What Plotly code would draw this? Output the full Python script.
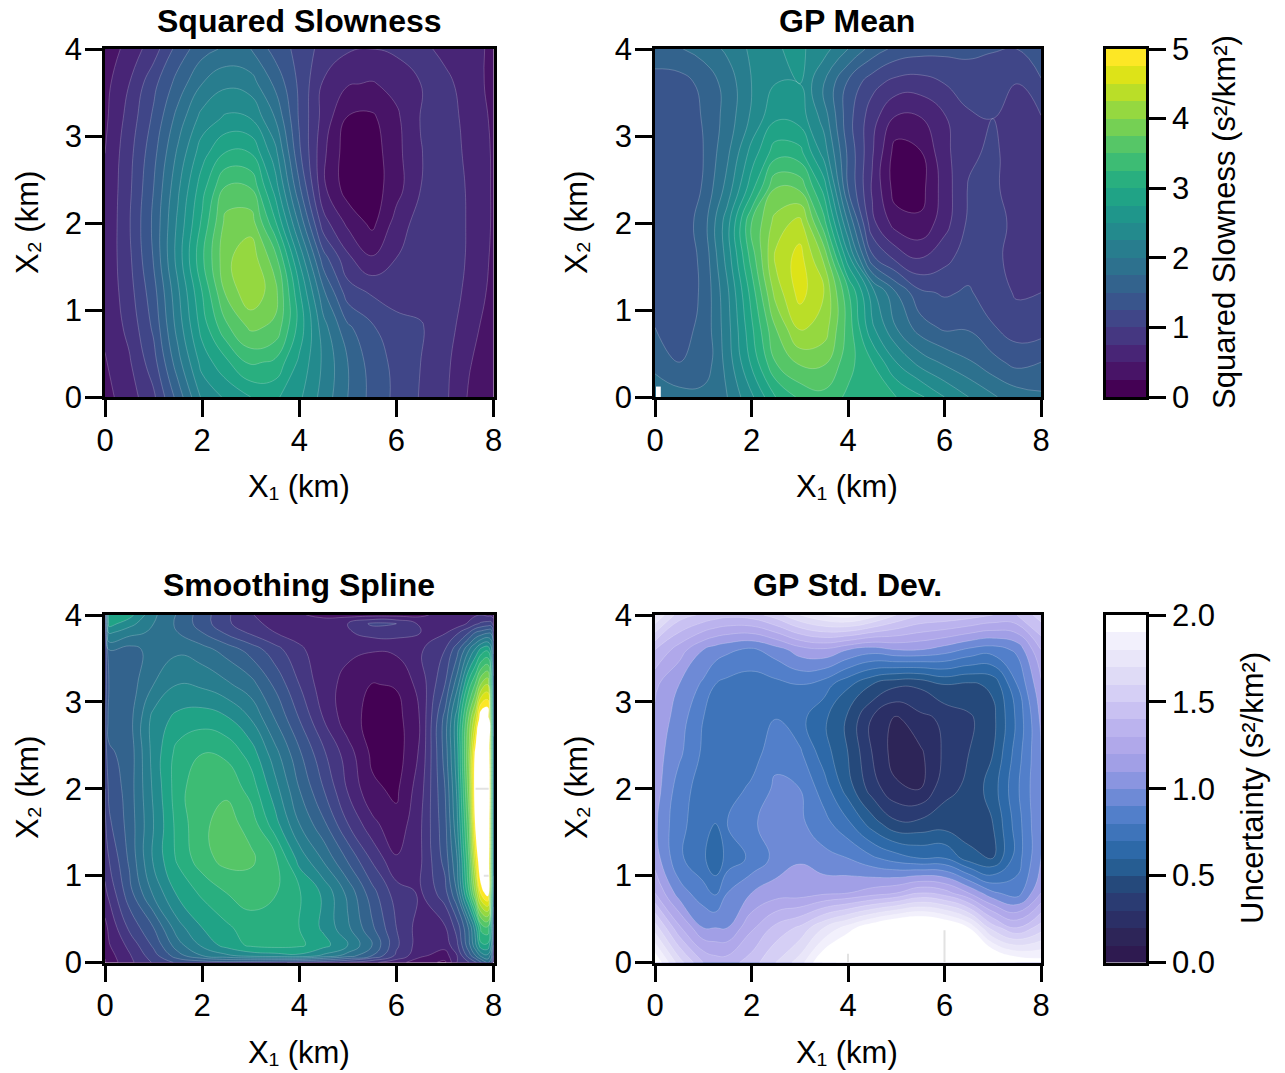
import plotly.graph_objects as go

# ---------- band colours ----------
viridis_bands = ["#440154","#481467","#482576","#453781","#404688","#39558c","#33638d","#2d718e","#287d8e","#238a8d",
                 "#1f968b","#20a386","#29af7f","#3dbc74","#56c667","#75d054","#95d840","#bade28","#dde318","#fde725"]
blue_bands = ["#2e1a50","#2d2558","#2b2f66","#2a3b72","#25497b","#265d92","#2d69a8","#3e74ba","#527fca","#6e8ad6",
              "#8a95e0","#a19fe6","#b0a8ea","#bbb3ee","#c9c1f2","#d5cff5","#dfdbf6","#e9e6f9","#f2f0fc","#ffffff"]

# ---------- grids ----------
x_common = [0,.5,1,1.5,2,2.5,3,3.5,4,4.5,5,5.5,6,6.5,7,7.5,8]
y_common = [0,.4,.8,1.2,1.6,2,2.4,2.8,3.2,3.6,4]

slowness_z = [
 [.42,.63,.95,1.6,2.3,2.55,2.75,2.8,2.55,2.15,1.75,1.42,1.19,.98,.8,.47,.32],
 [.48,.72,1.15,1.9,2.6,2.95,3.3,3.2,2.7,2.2,1.75,1.38,1.18,1.0,.82,.52,.33],
 [.55,.82,1.3,2.1,2.85,3.45,3.8,3.7,2.9,2.1,1.55,1.28,1.1,1.02,.87,.6,.36],
 [.55,.9,1.4,2.2,3.0,3.8,4.2,3.85,2.8,1.8,1.12,.97,.88,.92,.9,.68,.42],
 [.55,.95,1.52,2.35,3.2,3.95,4.15,3.6,2.45,1.35,.8,.52,.75,.9,.9,.72,.45],
 [.52,.98,1.55,2.3,3.05,3.85,3.9,3.05,1.95,.85,.44,.18,.6,.87,.93,.72,.47],
 [.52,.95,1.5,2.2,2.9,3.55,3.5,2.65,1.55,.55,.12,.12,.4,.75,.9,.72,.47],
 [.5,.92,1.42,2.05,2.65,3.03,3.0,2.35,1.3,.55,.1,.12,.42,.74,.87,.7,.47],
 [.45,.85,1.3,1.85,2.35,2.55,2.5,2.0,1.22,.65,.22,.2,.45,.76,.85,.68,.45],
 [.42,.75,1.18,1.6,2.0,2.2,2.12,1.7,1.2,.72,.52,.48,.58,.75,.82,.63,.42],
 [.33,.6,.88,1.35,1.65,1.8,1.75,1.4,1.17,.9,.78,.75,.8,.82,.68,.57,.46],
]

gp_mean_z = [
 [1.95,1.85,1.85,2.0,2.45,3.0,3.3,3.42,3.2,3.1,3.0,2.8,2.5,2.25,2.03,1.88,1.8],
 [1.65,1.5,1.55,2.1,2.8,3.5,3.8,3.8,3.35,3.0,2.5,2.15,1.95,1.78,1.58,1.42,1.5],
 [1.5,1.42,1.55,2.15,2.95,3.75,4.3,4.15,3.4,2.55,2.0,1.62,1.45,1.47,1.27,1.12,1.13],
 [1.4,1.38,1.53,2.2,3.1,4.1,4.6,4.25,3.3,2.35,1.75,1.3,1.22,1.28,1.12,.97,1.0],
 [1.35,1.35,1.55,2.35,3.35,4.3,4.6,3.95,2.6,1.3,.92,.72,.92,1.13,1.05,.93,1.0],
 [1.35,1.32,1.62,2.4,3.5,4.1,4.35,3.35,2.0,.82,.38,.3,.65,1.05,1.1,.93,.88],
 [1.33,1.3,1.52,2.1,2.9,3.75,3.7,2.9,1.5,.72,.12,.15,.62,1.02,1.05,.88,.85],
 [1.33,1.3,1.5,1.95,2.6,3.15,3.1,2.4,1.45,.78,.12,.22,.68,.95,1.05,.88,.9],
 [1.35,1.3,1.52,1.85,2.3,2.72,2.65,2.15,1.35,.85,.45,.48,.72,.95,1.0,.85,.98],
 [1.35,1.38,1.57,1.85,2.25,2.5,2.5,2.0,1.45,1.08,.9,.88,1.0,1.13,1.08,1.0,1.2],
 [1.7,1.73,1.85,2.05,2.3,2.48,2.55,2.35,2.0,1.65,1.42,1.35,1.32,1.3,1.27,1.25,1.5],
]

x_spline = [0,.08,.5,1,1.5,2,2.5,3,3.5,4,4.5,5,5.5,6,6.5,7,7.25,7.5,7.63,7.75,7.88,7.95,8]
y_spline = [0,.08,.2,.4,.8,1.2,1.6,2,2.4,2.8,3.2,3.6,3.8,3.9,4]
spline_z = [
 [.22,.35,.68,1.03,1.3,1.35,1.4,1.35,1.3,1.2,1.1,.95,.8,.6,.35,.2,.75,1.0,1.2,1.5,1.8,1.6,1.0],
 [.28,.4,.72,1.15,1.65,2.0,2.2,2.35,2.4,2.45,2.2,1.9,1.5,.95,.55,.38,.75,1.4,1.75,2.1,2.2,1.9,1.25],
 [.35,.48,.82,1.3,1.9,2.3,2.6,2.8,2.85,2.8,2.6,2.25,1.75,1.05,.6,.6,.95,1.7,2.2,2.7,2.7,2.3,1.5],
 [.42,.55,1.05,1.5,2.15,2.5,2.7,2.88,2.85,2.75,2.45,2.05,1.55,1.0,.62,.72,1.1,1.8,2.4,3.1,3.2,2.6,1.7],
 [.7,.8,1.4,2.05,2.55,2.8,3.0,3.12,3.02,2.78,2.45,1.93,1.35,.87,.72,1.15,1.75,3.0,3.8,4.6,4.9,3.3,2.2],
 [.85,1.0,1.55,2.3,2.8,3.15,3.35,3.3,3.05,2.4,1.95,1.45,.95,.52,.72,1.35,2.0,3.3,4.4,5.3,5.6,3.4,2.3],
 [.95,1.2,1.6,2.25,2.85,3.2,3.35,3.15,2.6,2.0,1.55,1.0,.57,.32,.72,1.42,2.2,3.5,4.85,6.0,6.0,3.4,2.3],
 [1.0,1.3,1.62,2.3,2.9,3.2,3.2,2.9,2.35,1.75,1.25,.72,.3,.2,.65,1.5,2.3,3.7,5.05,6.5,6.4,3.4,2.3],
 [1.1,1.45,1.6,2.35,2.85,3.0,2.95,2.65,2.1,1.55,1.05,.62,.2,.12,.55,1.6,2.4,3.8,4.9,5.9,5.9,3.4,2.3],
 [1.15,1.6,1.65,2.35,2.58,2.65,2.55,2.25,1.75,1.25,.75,.35,.17,.15,.52,1.6,2.4,3.6,4.2,5.1,5.15,3.3,2.2],
 [1.1,1.5,1.62,2.0,2.25,2.2,2.05,1.85,1.45,1.0,.6,.42,.24,.27,.6,1.25,1.9,2.9,3.3,3.8,4.0,3.0,2.1],
 [1.0,1.75,1.65,1.85,1.95,1.85,1.65,1.4,1.1,.8,.6,.55,.52,.55,.72,1.0,1.4,2.0,2.3,2.6,2.7,2.4,1.7],
 [1.1,2.3,2.1,1.95,1.75,1.5,1.2,.95,.75,.65,.6,.72,.85,.85,.75,.72,.95,1.25,1.5,1.6,1.7,1.7,1.3],
 [1.2,2.6,2.35,2.0,1.7,1.38,1.05,.82,.68,.58,.6,.75,1.05,1.0,.7,.55,.6,.8,.95,1.05,1.1,1.1,.9],
 [1.2,2.7,2.6,2.05,1.72,1.37,1.05,.77,.62,.52,.45,.42,.42,.42,.45,.6,.55,.65,.72,.75,.7,.7,.65],
]

x_std = [0,.5,1,1.25,1.5,2,2.5,3,3.5,4,4.5,5,5.5,6,6.5,7,7.5,8]
gp_std_z = [
 [1.9,1.55,1.3,1.25,1.25,1.35,1.5,1.65,1.92,2.08,2.3,2.45,2.5,2.4,2.2,2.02,1.9,1.85],
 [1.55,1.22,1.0,1.0,1.0,1.18,1.33,1.42,1.6,1.75,1.9,2.02,2.05,1.97,1.8,1.45,1.3,1.45],
 [1.2,.95,.84,.78,.9,1.0,1.05,1.05,1.08,1.1,1.15,1.2,1.3,1.25,1.1,.92,.85,1.1],
 [1.05,.82,.72,.62,.74,.82,.93,.99,.93,.9,.82,.75,.7,.7,.55,.5,.75,1.0],
 [1.02,.82,.76,.7,.8,.89,.93,.92,.84,.72,.55,.42,.43,.45,.42,.5,.75,1.0],
 [1.05,.85,.75,.74,.75,.82,.92,.9,.75,.55,.35,.22,.2,.37,.42,.55,.78,1.0],
 [1.05,.92,.78,.74,.72,.75,.87,.82,.65,.5,.3,.15,.18,.32,.4,.5,.75,1.0],
 [1.08,.95,.8,.75,.72,.72,.8,.73,.62,.48,.29,.18,.27,.32,.38,.47,.72,1.02],
 [1.12,1.0,.88,.8,.77,.75,.77,.8,.75,.62,.5,.42,.42,.5,.48,.52,.8,1.08],
 [1.3,1.15,1.0,.95,.92,.88,.95,1.05,1.08,1.0,.95,1.0,1.0,.95,.88,.85,.92,1.2],
 [1.7,1.45,1.38,1.35,1.33,1.35,1.45,1.6,1.7,1.75,1.65,1.5,1.4,1.38,1.35,1.3,1.3,1.45],
]

# faint gridlines that show through where the field is unfilled
spline_grid_x = [7.63, 7.9, None, 7.8, 7.9]
spline_grid_y = [2, 2, None, 1, 1]
std_grid_x = [4, 4, None, 6, 6]
std_grid_y = [0, .1, None, 0, .37]
speck_x = [.02,.12,.12,.02]
speck_y = [0,0,.12,.12]

# ---------- tick labels / text ----------
x_ticks = [0,2,4,6,8]
y_ticks = [0,1,2,3,4]
cb1_ticks = [0,1,2,3,4,5]
cb2_ticks = [0,.5,1,1.5,2]
cb2_ticktext = ["0.0","0.5","1.0","1.5","2.0"]
cb1_levels = [i*0.25 for i in range(21)]
cb2_levels = [i*0.1 for i in range(21)]

def stepped(colors, extra=None):
    cols = list(colors) + ([extra] if extra else [])
    n = len(cols)
    out = []
    for i, c in enumerate(cols):
        out += [[i/n, c], [(i+1)/n, c]]
    return out

FONT = "Liberation Sans"
LINE = dict(color="rgba(255,255,255,0.42)", width=0.5, smoothing=1.3)

def contour(x, y, z, colors, size, axis, overflow=False):
    top = size*20
    return go.Contour(
        x=x, y=y, z=z, xaxis="x"+axis, yaxis="y"+axis,
        colorscale=stepped(colors, "#ffffff" if overflow else None),
        zauto=False, zmin=0, zmax=top+(size if overflow else 0),
        autocontour=False,
        contours=dict(start=0, end=top, size=size, coloring="fill", showlines=True),
        line=LINE, showscale=False, hoverinfo="skip")

def bar(levels, colors, axis):
    return go.Heatmap(
        x=[0,1], y=levels, z=[[(levels[i]+levels[i+1])/2] for i in range(len(levels)-1)],
        colorscale=stepped(colors), zauto=False, zmin=levels[0], zmax=levels[-1],
        xaxis="x"+axis, yaxis="y"+axis, showscale=False, hoverinfo="skip")

def grid_bit(x, y, axis):
    return go.Scatter(x=x, y=y, mode="lines", line=dict(color="#e2e2e2", width=2),
                      xaxis="x"+axis, yaxis="y"+axis, hoverinfo="skip")

fig = go.Figure([
    contour(x_common, y_common, slowness_z, viridis_bands, 0.25, ""),
    contour(x_common, y_common, gp_mean_z, viridis_bands, 0.25, "2"),
    go.Scatter(x=speck_x, y=speck_y, fill="toself", fillcolor="#ffffff", mode="none",
               xaxis="x2", yaxis="y2", hoverinfo="skip"),
    contour(x_spline, y_spline, spline_z, viridis_bands, 0.25, "3", overflow=True),
    grid_bit(spline_grid_x, spline_grid_y, "3"),
    contour(x_std, y_common, gp_std_z, blue_bands, 0.1, "4", overflow=True),
    grid_bit(std_grid_x, std_grid_y, "4"),
    bar(cb1_levels, viridis_bands, "5"),
    bar(cb2_levels, blue_bands, "6"),
])

W, H = 1285, 1073
def dx(a, b): return [a/W, b/W]
def dy(top, bottom): return [1-bottom/H, 1-top/H]

tickfont = dict(family=FONT, size=31, color="#000000")
def xax(dom, anchor):
    return dict(domain=dom, anchor=anchor, range=[0,8], tickvals=x_ticks, ticks="outside", ticklen=17, tickwidth=2.5,
                tickcolor="#000", showline=True, linecolor="#000", linewidth=2.5, mirror=True, showgrid=False,
                zeroline=False, tickfont=tickfont, automargin=False, layer="above traces", ticklabelstandoff=-3)
def yax(dom, anchor):
    return dict(domain=dom, anchor=anchor, range=[0,4], tickvals=y_ticks, ticks="outside", ticklen=17, tickwidth=2.5,
                tickcolor="#000", showline=True, linecolor="#000", linewidth=2.5, mirror=True, showgrid=False,
                zeroline=False, tickfont=tickfont, automargin=False, layer="above traces", ticklabelstandoff=-3)
def cbx(dom, anchor):
    return dict(domain=dom, anchor=anchor, range=[0,1], showticklabels=False, ticks="", showgrid=False, zeroline=False,
                showline=True, linecolor="#000", linewidth=2.5, mirror=True, layer="above traces", automargin=False)
def cby(dom, anchor, rng, vals, text):
    return dict(domain=dom, anchor=anchor, side="right", range=rng, tickvals=vals, ticktext=text, ticks="outside",
                ticklen=17, tickwidth=2.5, tickcolor="#000", showgrid=False, zeroline=False, showline=True,
                linecolor="#000", linewidth=2.5, mirror=True, tickfont=tickfont, layer="above traces", automargin=False)

top, bot = dy(49,397), dy(615,962.5)
c1, c2, c3 = dx(105,493.5), dx(655,1041), dx(1106,1146)

def label(text, xpx, ypx, size=31, angle=0):
    return dict(text=text, x=xpx/W, y=1-ypx/H, xref="paper", yref="paper", showarrow=False,
                textangle=angle, xanchor="center", yanchor="middle", font=dict(family=FONT, size=size, color="#000"))

annotations = [
    label("<b>Squared Slowness</b>",299,21,32), label("<b>GP Mean</b>",847,21,32),
    label("<b>Smoothing Spline</b>",299,585,32), label("<b>GP Std. Dev.</b>",847,585,32),
    label("X₁ (km)",299,486), label("X₁ (km)",847,486), label("X₁ (km)",299,1052), label("X₁ (km)",847,1052),
    label("X₂ (km)",27,223,31,-90), label("X₂ (km)",576,223,31,-90),
    label("X₂ (km)",27,788,31,-90), label("X₂ (km)",576,788,31,-90),
    label("Squared Slowness (s²/km²)",1225,222,31,-90),
    label("Uncertainty (s²/km²)",1252,788,31,-90),
]

fig.update_layout(
    width=W, height=H, autosize=False, margin=dict(l=0,r=0,t=0,b=0),
    paper_bgcolor="#fff", plot_bgcolor="#fff", showlegend=False,
    xaxis=xax(c1,"y"), yaxis=yax(top,"x"),
    xaxis2=xax(c2,"y2"), yaxis2=yax(top,"x2"),
    xaxis3=xax(c1,"y3"), yaxis3=yax(bot,"x3"),
    xaxis4=xax(c2,"y4"), yaxis4=yax(bot,"x4"),
    xaxis5=cbx(c3,"y5"), yaxis5=cby(top,"x5",[0,5],cb1_ticks,[str(t) for t in cb1_ticks]),
    xaxis6=cbx(c3,"y6"), yaxis6=cby(bot,"x6",[0,2],cb2_ticks,cb2_ticktext),
    annotations=annotations,
)
fig.write_html("out.html", config={"displayModeBar": False}, post_script="document.body.style.margin='0';")
